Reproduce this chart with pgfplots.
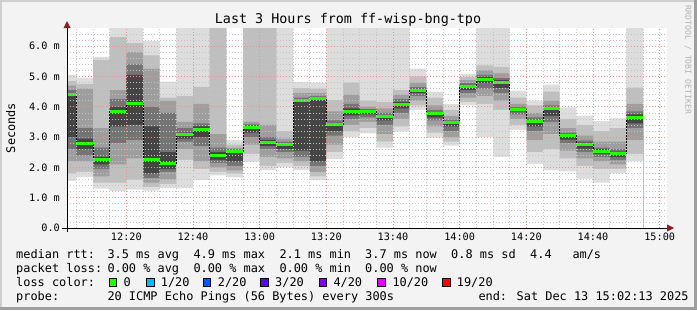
\documentclass[border=0pt]{standalone}
\usepackage{pgfplots}
\pgfplotsset{compat=1.18}
\usepackage{pgfplotstable}
\usepackage{fontspec}
\setmainfont{DejaVu Sans Mono}
\definecolor{canvas}{HTML}{F3F3F3}
\definecolor{frameL}{HTML}{CFCFCF}
\definecolor{frameD}{HTML}{9E9E9E}
\definecolor{sA}{HTML}{DDDDDD}
\definecolor{sB}{HTML}{BFBFBF}
\definecolor{sC}{HTML}{9E9E9E}
\definecolor{sD}{HTML}{747474}
\definecolor{sE}{HTML}{454545}
\definecolor{loss0}{HTML}{26FF00}
\definecolor{loss1}{HTML}{00B8FF}
\definecolor{loss2}{HTML}{0059FF}
\definecolor{loss3}{HTML}{5E00FF}
\definecolor{loss4}{HTML}{7E00FF}
\definecolor{loss10}{HTML}{DD00FF}
\definecolor{loss19}{HTML}{FF0000}
\definecolor{mgrid}{HTML}{E89494}
\definecolor{ngrid}{HTML}{C4C4C4}
\definecolor{arrowc}{HTML}{8F1D1D}
\definecolor{wmark}{HTML}{B4B4B4}
\newcommand{\lf}{\fontsize{11.9bp}{14bp}\selectfont}
\newcommand{\tf}{\fontsize{10.2bp}{12bp}\selectfont}
\newcommand{\ttl}{\fontsize{13.4bp}{16bp}\selectfont}
\newcommand{\wf}{\fontsize{8.2bp}{10bp}\selectfont}

% minutes after 12:00 (start of 5-min step); smoke bands a_k..b_k (ms), median m
\pgfplotstableread{
t   a1   b1   a2   b2   a3   b3   a4   b4   a5   b5   m
0   1.55 5.05 1.80 4.85 2.20 4.70 2.60 4.55 3.00 4.45 4.40
5   1.68 4.96 1.85 4.75 2.20 4.60 2.40 3.30 2.60 2.95 2.79
10  1.30 5.65 1.50 5.55 1.70 3.30 1.95 2.65 2.10 2.35 2.25
15  1.22 6.70 1.50 6.30 2.10 4.55 2.80 4.25 3.35 4.00 3.85
20  1.27 6.70 1.60 6.10 2.30 5.80 2.90 5.40 3.40 5.05 4.11
25  1.23 6.17 1.35 5.70 1.50 5.25 1.65 4.00 1.80 3.35 2.27
30  1.31 4.83 1.45 4.30 1.60 4.20 1.85 3.80 1.95 2.50 2.12
35  1.31 6.70 2.25 4.35 2.60 3.50 2.85 3.30 2.95 3.15 3.08
40  1.58 6.70 1.95 4.66 2.20 4.10 2.70 3.45 3.00 3.35 3.25
45  1.74 6.70 1.85 6.70 2.00 3.10 2.15 2.65 2.25 2.50 2.39
50  1.67 2.90 1.80 2.75 1.90 2.65 2.05 2.60 2.20 2.56 2.53
55  2.18 6.70 2.45 6.70 2.75 3.50 3.00 3.42 3.15 3.38 3.33
60  1.91 6.70 2.05 6.70 2.35 3.40 2.60 3.00 2.70 2.90 2.81
65  2.00 6.70 2.15 3.20 2.30 2.95 2.50 2.85 2.60 2.80 2.74
70  1.91 4.82 2.05 4.62 2.20 4.45 2.35 4.30 2.55 4.25 4.21
75  1.58 4.80 1.70 4.60 1.85 4.45 2.05 4.35 2.20 4.32 4.28
80  2.27 6.70 2.50 4.22 2.75 3.85 3.05 3.55 3.20 3.45 3.42
85  3.00 6.70 3.20 4.80 3.40 4.40 3.60 4.10 3.72 3.95 3.86
90  3.12 6.70 3.30 4.20 3.50 4.00 3.65 3.92 3.75 3.90 3.84
95  2.65 6.70 2.85 4.15 3.10 3.95 3.40 3.80 3.55 3.72 3.67
100 3.18 6.70 3.35 4.55 3.60 4.40 3.80 4.25 3.95 4.15 4.08
105 3.90 5.26 4.05 5.00 4.20 4.80 4.35 4.65 4.45 4.60 4.53
110 2.98 4.50 3.15 4.30 3.35 4.05 3.55 3.90 3.65 3.82 3.77
115 2.72 4.10 2.85 3.90 3.00 3.70 3.20 3.58 3.35 3.53 3.49
120 4.05 5.08 4.15 4.98 4.30 4.88 4.45 4.78 4.55 4.72 4.67
125 3.00 6.70 4.10 5.37 4.35 5.20 4.60 5.05 4.78 4.98 4.91
130 2.35 6.70 3.90 5.32 4.20 5.10 4.45 4.95 4.62 4.88 4.80
135 3.23 4.53 3.40 4.30 3.60 4.10 3.75 4.00 3.85 3.96 3.92
140 2.12 4.20 2.50 4.05 2.90 3.80 3.20 3.65 3.35 3.57 3.52
145 1.91 4.73 2.60 4.50 3.10 4.20 3.50 4.05 3.70 3.97 3.93
150 1.87 3.98 2.30 3.60 2.55 3.30 2.80 3.15 2.92 3.10 3.05
155 1.62 3.70 2.05 3.40 2.30 3.05 2.50 2.88 2.62 2.82 2.76
160 1.50 3.53 1.95 3.20 2.20 2.85 2.35 2.65 2.45 2.60 2.54
165 1.80 3.62 1.95 3.30 2.10 2.85 2.25 2.60 2.35 2.52 2.45
170 2.20 6.70 2.45 4.63 2.90 4.10 3.30 3.85 3.45 3.75 3.65
175 2.20 6.70 2.45 4.63 2.90 4.10 3.30 3.85 3.45 3.75 3.65
}\smoke

\begin{document}
\begin{tikzpicture}[x=1bp,y=1bp]
\fill[canvas] (0,0) rectangle (697,310);
\fill[frameL] (0,0) rectangle (2,310);
\fill[frameL] (0,308) rectangle (697,310);
\fill[frameD] (0,0) rectangle (697,3);
\fill[frameD] (694,0) rectangle (697,310);

\begin{axis}[
  at={(67bp,82bp)}, anchor=south west, scale only axis,
  width=600bp, height=200bp,
  xmin=2.2, xmax=182.2, ymin=0, ymax=6.6,
  axis background/.style={fill=white},
  axis line style={draw=none},
  major tick length=0pt, minor tick length=0pt,
  xtick={20,40,...,180},
  xticklabels={12:20,12:40,13:00,13:20,13:40,14:00,14:20,14:40,15:00},
  minor xtick={5,10,...,180},
  ytick={0,1,...,6},
  yticklabels={0.0,1.0 m,2.0 m,3.0 m,4.0 m,5.0 m,6.0 m},
  minor ytick={0.2,0.4,0.6,0.8,1.2,1.4,1.6,1.8,2.2,2.4,2.6,2.8,3.2,3.4,3.6,3.8,4.2,4.4,4.6,4.8,5.2,5.4,5.6,5.8,6.2,6.4},
  grid=both,
  major grid style={draw=mgrid, line width=0.6bp, dash pattern=on 1bp off 2bp},
  minor grid style={draw=ngrid, line width=0.6bp, dash pattern=on 1bp off 2bp},
  xticklabel style={font=\tf, inner sep=0pt, anchor=north, yshift=-5bp},
  yticklabel style={font=\tf, inner sep=0pt, anchor=east, xshift=-7bp},
  axis on top,
  every axis plot/.append style={solid},
]
% nested smoke bands: upper edges from the outside in, then lower edges from the inside out
\addplot[const plot mark left, fill=sA, draw=none] table[x=t,y=b1]{\smoke} \closedcycle;
\addplot[const plot mark left, fill=sB, draw=none] table[x=t,y=b2]{\smoke} \closedcycle;
\addplot[const plot mark left, fill=sC, draw=none] table[x=t,y=b3]{\smoke} \closedcycle;
\addplot[const plot mark left, fill=sD, draw=none] table[x=t,y=b4]{\smoke} \closedcycle;
\addplot[const plot mark left, fill=sE, draw=none] table[x=t,y=b5]{\smoke} \closedcycle;
\addplot[const plot mark left, fill=sD, draw=none] table[x=t,y=a5]{\smoke} \closedcycle;
\addplot[const plot mark left, fill=sC, draw=none] table[x=t,y=a4]{\smoke} \closedcycle;
\addplot[const plot mark left, fill=sB, draw=none] table[x=t,y=a3]{\smoke} \closedcycle;
\addplot[const plot mark left, fill=sA, draw=none] table[x=t,y=a2]{\smoke} \closedcycle;
\addplot[const plot mark left, fill=white, draw=none] table[x=t,y=a1]{\smoke} \closedcycle;
% median
\addplot[const plot mark left, draw=black, solid, line width=0.8bp, mark=none] table[x=t,y=m]{\smoke};
\addplot[jump mark left, draw=loss0, solid, line width=3bp, mark=none] table[x=t,y=m]{\smoke};
\end{axis}

% axes with arrows
\draw[black, line width=1bp] (62,82) -- (667,82);
\fill[arrowc] (667,78.5) -- (674,82) -- (667,85.5) -- cycle;
\draw[black, line width=1bp] (67,78) -- (67,282);
\fill[arrowc] (63.5,282) -- (67,289) -- (70.5,282) -- cycle;

% titles
\node[inner sep=0pt, font=\ttl] at (348,290.5) {Last 3 Hours from ff-wisp-bng-tpo};
\node[inner sep=0pt, font=\lf, rotate=90] at (10.8,182) {Seconds};
\node[inner sep=0pt, font=\wf, text=wmark, rotate=-90] at (688,250) {RRDTOOL / TOBI OETIKER};

% legend
\begin{scope}[every node/.style={inner sep=0pt, anchor=base west, font=\lf}]
\node at (16,51.7) {median rtt:};
\node at (107.3,51.7) {3.5 ms avg};
\node at (193.3,51.7) {4.9 ms max};
\node at (279.3,51.7) {2.1 ms min};
\node at (365,51.7) {3.7 ms now};
\node at (451,51.7) {0.8 ms sd};
\node at (530,51.7) {4.4};
\node at (572.3,51.7) {am/s};
\node at (16,37.5) {packet loss:};
\node at (107.3,37.5) {0.00 \% avg};
\node at (193.3,37.5) {0.00 \% max};
\node at (279.3,37.5) {0.00 \% min};
\node at (365,37.5) {0.00 \% now};
\node at (16,23.7) {loss color:};
\node at (123.3,23.7) {0};
\node at (160.7,23.7) {1/20};
\node at (217.7,23.7) {2/20};
\node at (275,23.7) {3/20};
\node at (333.3,23.7) {4/20};
\node at (392.3,23.7) {10/20};
\node at (456.7,23.7) {19/20};
\node at (16,9.8) {probe:};
\node at (107.3,9.8) {20 ICMP Echo Pings (56 Bytes) every 300s};
\node at (478.3,9.8) {end: Sat Dec 13 15:02:13 2025};
\end{scope}
\filldraw[fill=loss0, draw=black, line width=0.7bp] (109,24) rectangle (116.5,31.5);
\filldraw[fill=loss1, draw=black, line width=0.7bp] (146.7,24) rectangle (154.2,31.5);
\filldraw[fill=loss2, draw=black, line width=0.7bp] (203.3,24) rectangle (210.8,31.5);
\filldraw[fill=loss3, draw=black, line width=0.7bp] (260.7,24) rectangle (268.2,31.5);
\filldraw[fill=loss4, draw=black, line width=0.7bp] (319,24) rectangle (326.5,31.5);
\filldraw[fill=loss10, draw=black, line width=0.7bp] (377.7,24) rectangle (385.2,31.5);
\filldraw[fill=loss19, draw=black, line width=0.7bp] (442.7,24) rectangle (450.2,31.5);
\pgfresetboundingbox
\useasboundingbox (0,0) rectangle (697,310);
\end{tikzpicture}
\end{document}
